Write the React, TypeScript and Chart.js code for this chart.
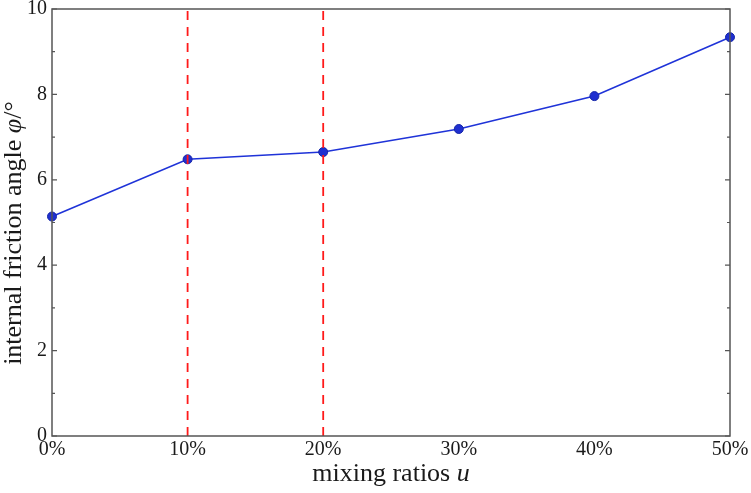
import React, { useEffect, useRef } from "react";
import { Chart, registerables } from "chart.js";

Chart.register(...registerables);

const ratios = [0, 10, 20, 30, 40, 50];
const frictionAngle = [5.14, 6.48, 6.65, 7.19, 7.96, 9.34];
const markerLines = [10, 20];
const yMajorTicks = [0, 2, 4, 6, 8, 10];
const yMinorTicks = [1, 3, 5, 7, 9];
const xTitleParts = [
  { text: "mixing ratios ", italic: false },
  { text: "u", italic: true },
];
const yTitleParts = [
  { text: "internal friction angle ", italic: false },
  { text: "φ", italic: true },
  { text: "/°", italic: false },
];

const FONT = '"Liberation Serif", "Times New Roman", serif';

const framePlugin = {
  id: "frame",
  afterDraw(chart: any) {
    const { ctx, chartArea: a, scales } = chart;
    const y = scales.y;
    ctx.save();
    ctx.strokeStyle = "#555";
    ctx.lineWidth = 1.5;
    ctx.strokeRect(a.left, a.top, a.right - a.left, a.bottom - a.top);
    ctx.lineWidth = 1.2;
    const tick = (v: number, len: number) => {
      const py = y.getPixelForValue(v);
      ctx.beginPath();
      ctx.moveTo(a.left, py);
      ctx.lineTo(a.left + len, py);
      ctx.moveTo(a.right, py);
      ctx.lineTo(a.right - len, py);
      ctx.stroke();
    };
    yMajorTicks.forEach((v) => tick(v, 5));
    yMinorTicks.forEach((v) => tick(v, 3));

    const drawParts = (parts: any[], size: number) => {
      const fonts = parts.map((p) => `${p.italic ? "italic " : ""}${size}px ${FONT}`);
      let total = 0;
      parts.forEach((p, i) => {
        ctx.font = fonts[i];
        total += ctx.measureText(p.text).width;
      });
      let x = -total / 2;
      parts.forEach((p, i) => {
        ctx.font = fonts[i];
        ctx.fillText(p.text, x, 0);
        x += ctx.measureText(p.text).width;
      });
    };
    ctx.fillStyle = "#1a1a1a";
    ctx.textBaseline = "middle";
    ctx.textAlign = "left";
    ctx.save();
    ctx.translate((a.left + a.right) / 2, 474);
    drawParts(xTitleParts, 26);
    ctx.restore();
    ctx.save();
    ctx.translate(14, 233);
    ctx.rotate(-Math.PI / 2);
    drawParts(yTitleParts, 26);
    ctx.restore();
    ctx.restore();
  },
};

export default function App() {
  const ref = useRef<HTMLCanvasElement>(null);
  useEffect(() => {
    document.body.style.margin = "0";
    const datasets: any[] = markerLines.map((m) => ({
      data: [
        { x: m, y: 0 },
        { x: m, y: 10 },
      ],
      borderColor: "#ff1a1a",
      borderWidth: 1.8,
      borderDash: [9, 7],
      pointRadius: 0,
      showLine: true,
      fill: false,
    }));
    datasets.push({
      data: ratios.map((r, i) => ({ x: r, y: frictionAngle[i] })),
      borderColor: "#1f33d8",
      borderWidth: 1.6,
      pointRadius: 4.5,
      pointBackgroundColor: "#1f2fd0",
      pointBorderColor: "#1526a8",
      pointBorderWidth: 1,
      showLine: true,
      fill: false,
      clip: false,
    });
    const chart = new Chart(ref.current!, {
      type: "scatter",
      data: { datasets },
      options: {
        animation: false,
        responsive: false,
        maintainAspectRatio: false,
        layout: { padding: { top: 9, right: 21, left: 0, bottom: 0 } },
        plugins: { legend: { display: false }, tooltip: { enabled: false } },
        scales: {
          x: {
            type: "linear",
            min: 0,
            max: 50,
            grid: { display: false, drawTicks: false },
            border: { display: false },
            afterFit: (s: any) => {
              s.height = 57;
              s.paddingLeft = 0;
              s.paddingRight = 0;
            },
            afterBuildTicks: (s: any) => {
              s.ticks = ratios.map((v) => ({ value: v }));
            },
            ticks: {
              padding: 2,
              color: "#1a1a1a",
              font: { family: FONT, size: 20 },
              callback: (v: any) => `${v}%`,
            },
          },
          y: {
            min: 0,
            max: 10,
            grid: { display: false, drawTicks: false },
            border: { display: false },
            afterFit: (s: any) => {
              s.width = 52;
              s.paddingTop = 0;
              s.paddingBottom = 0;
            },
            afterBuildTicks: (s: any) => {
              s.ticks = yMajorTicks.map((v) => ({ value: v }));
            },
            ticks: {
              padding: 5,
              color: "#1a1a1a",
              font: { family: FONT, size: 20 },
            },
          },
        },
      },
      plugins: [framePlugin],
    });
    return () => chart.destroy();
  }, []);
  return (
    <div style={{ width: 751, height: 493 }}>
      <canvas ref={ref} width={751} height={493} style={{ width: 751, height: 493 }} />
    </div>
  );
}
